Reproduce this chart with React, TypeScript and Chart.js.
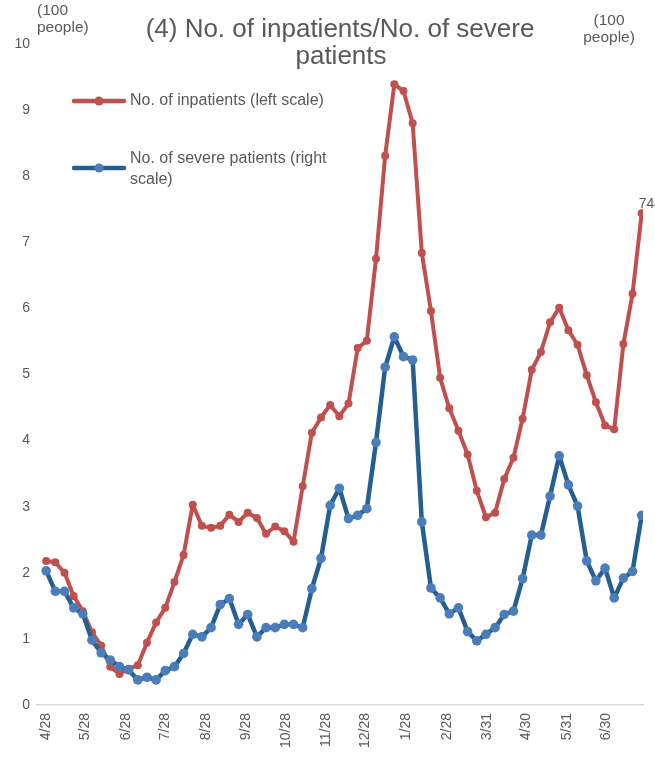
import React, { useEffect, useRef } from "react";
import { Chart, registerables } from "chart.js";

Chart.register(...registerables);

// Weekly observation dates (categories)
const weekDates = [
  "2020-04-28", "2020-05-05", "2020-05-12", "2020-05-19", "2020-05-26",
  "2020-06-02", "2020-06-09", "2020-06-16", "2020-06-23", "2020-06-30",
  "2020-07-07", "2020-07-14", "2020-07-21", "2020-07-28",
  "2020-08-04", "2020-08-11", "2020-08-18", "2020-08-25",
  "2020-09-01", "2020-09-08", "2020-09-15", "2020-09-22", "2020-09-29",
  "2020-10-06", "2020-10-13", "2020-10-20", "2020-10-27",
  "2020-11-03", "2020-11-10", "2020-11-17", "2020-11-24",
  "2020-12-01", "2020-12-08", "2020-12-15", "2020-12-22", "2020-12-29",
  "2021-01-05", "2021-01-12", "2021-01-19", "2021-01-26",
  "2021-02-02", "2021-02-09", "2021-02-16", "2021-02-23",
  "2021-03-02", "2021-03-09", "2021-03-16", "2021-03-23", "2021-03-30",
  "2021-04-06", "2021-04-13", "2021-04-20", "2021-04-27",
  "2021-05-04", "2021-05-11", "2021-05-18", "2021-05-25",
  "2021-06-01", "2021-06-08", "2021-06-15", "2021-06-22", "2021-06-29",
  "2021-07-06", "2021-07-13", "2021-07-20", "2021-07-27",
];

// No. of inpatients (left scale, 100 people)
const inpatients = [
  2.18, 2.16, 2.0, 1.65, 1.42, 1.1, 0.9, 0.58, 0.47, 0.55,
  0.6, 0.94, 1.25, 1.47, 1.86, 2.27, 3.03, 2.71, 2.68, 2.71,
  2.88, 2.77, 2.91, 2.83, 2.59, 2.7, 2.63, 2.47, 3.31, 4.12,
  4.35, 4.54, 4.37, 4.56, 5.4, 5.51, 6.75, 8.31, 9.39, 9.29,
  8.8, 6.84, 5.96, 4.95, 4.49, 4.15, 3.79, 3.24, 2.84, 2.91,
  3.42, 3.74, 4.33, 5.07, 5.34, 5.79, 6.01, 5.67, 5.45, 4.99,
  4.58, 4.23, 4.17, 5.46, 6.22, 7.44,
];

// No. of severe patients (right scale, 100 people)
const severe = [
  2.03, 1.72, 1.72, 1.47, 1.38, 0.98, 0.79, 0.68, 0.58, 0.53,
  0.38, 0.42, 0.38, 0.52, 0.58, 0.78, 1.07, 1.03, 1.17, 1.52,
  1.61, 1.22, 1.37, 1.03, 1.17, 1.17, 1.22, 1.22, 1.17, 1.76,
  2.22, 3.02, 3.28, 2.82, 2.87, 2.97, 3.97, 5.11, 5.57, 5.27,
  5.22, 2.77, 1.77, 1.62, 1.38, 1.47, 1.11, 0.97, 1.07, 1.17,
  1.37, 1.42, 1.91, 2.57, 2.57, 3.16, 3.77, 3.33, 3.01, 2.18,
  1.88, 2.07, 1.62, 1.92, 2.02, 2.87,
];

// x-axis tick dates (labels shown as M/D)
const tickDates = [
  "2020-04-28", "2020-05-28", "2020-06-28", "2020-07-28", "2020-08-28",
  "2020-09-28", "2020-10-28", "2020-11-28", "2020-12-28", "2021-01-28",
  "2021-02-28", "2021-03-31", "2021-04-30", "2021-05-31", "2021-06-30",
];

const yTicks = [0, 1, 2, 3, 4, 5, 6, 7, 8, 9, 10];

const titleLines = ["(4) No. of inpatients/No. of severe", "patients"];
const legendInpatients = "No. of inpatients (left scale)";
const legendSevereLines = ["No. of severe patients (right", "scale)"];
const unitLines = ["(100", "people)"];
const lastLabel = "744";

const FONT = '"Liberation Sans", Arial, sans-serif';
const TEXT = "#595959";
const RED = "#C0504D";
const BLUE_LINE = "#255E91";
const BLUE_MARK = "#4A7EBB";

const dayMs = 86400000;
const toDay = (s: string) => {
  const [y, m, d] = s.split("-").map(Number);
  return Date.UTC(y, m - 1, d) / dayMs;
};
const day0 = toDay(weekDates[0]);
const xs = weekDates.map((d) => toDay(d) - day0);
const tickVals = tickDates.map((d) => toDay(d) - day0);
const tickLabelFor = (v: number) => {
  const i = tickVals.indexOf(v);
  if (i < 0) return "";
  const [, m, d] = tickDates[i].split("-").map(Number);
  return `${m}/${d}`;
};

const overlayPlugin = {
  id: "overlay",
  afterDraw(chart: any) {
    const ctx = chart.ctx;
    ctx.save();
    ctx.fillStyle = TEXT;
    // Title
    ctx.font = `26px ${FONT}`;
    ctx.textAlign = "center";
    ctx.textBaseline = "alphabetic";
    ctx.fillText(titleLines[0], 340, 37);
    ctx.fillText(titleLines[1], 341, 64);
    // Units
    ctx.font = `15.5px ${FONT}`;
    ctx.textAlign = "left";
    ctx.fillText(unitLines[0], 37, 15);
    ctx.fillText(unitLines[1], 37, 32);
    ctx.textAlign = "center";
    ctx.fillText(unitLines[0], 609, 25);
    ctx.fillText(unitLines[1], 609, 42);
    // Legend
    const drawKey = (y: number, line: string, mark: string) => {
      ctx.strokeStyle = line;
      ctx.lineWidth = 4.5;
      ctx.lineCap = "round";
      ctx.beginPath();
      ctx.moveTo(74, y);
      ctx.lineTo(124, y);
      ctx.stroke();
      ctx.fillStyle = mark;
      ctx.beginPath();
      ctx.arc(99, y, 4.5, 0, Math.PI * 2);
      ctx.fill();
    };
    drawKey(101, RED, RED);
    drawKey(168, BLUE_LINE, BLUE_MARK);
    ctx.fillStyle = TEXT;
    ctx.font = `16px ${FONT}`;
    ctx.textAlign = "left";
    ctx.textBaseline = "middle";
    ctx.fillText(legendInpatients, 130, 101);
    ctx.fillText(legendSevereLines[0], 130, 159);
    ctx.fillText(legendSevereLines[1], 130, 180);
    // Data label on last inpatients point
    const meta = chart.getDatasetMeta(1);
    const last = meta.data[meta.data.length - 1];
    if (last) {
      ctx.font = `14px ${FONT}`;
      ctx.textBaseline = "alphabetic";
      ctx.fillText(lastLabel, last.x - 3, last.y - 5);
    }
    ctx.restore();
  },
};

export default function App() {
  const ref = useRef<HTMLCanvasElement | null>(null);
  useEffect(() => {
    document.body.style.margin = "0";
    if (!ref.current) return;
    const chart = new Chart(ref.current, {
      type: "line",
      data: {
        datasets: [
          {
            label: "No. of severe patients (right scale)",
            data: xs.map((x, i) => ({ x, y: severe[i] })),
            yAxisID: "y1",
            borderColor: BLUE_LINE,
            backgroundColor: BLUE_MARK,
            pointBackgroundColor: BLUE_MARK,
            pointBorderColor: BLUE_MARK,
            borderWidth: 4.5,
            pointRadius: 4.8,
            pointBorderWidth: 0,
            tension: 0,
            order: 0,
          },
          {
            label: "No. of inpatients (left scale)",
            data: xs.map((x, i) => ({ x, y: inpatients[i] })),
            yAxisID: "y",
            borderColor: RED,
            backgroundColor: RED,
            pointBackgroundColor: RED,
            pointBorderColor: RED,
            borderWidth: 4,
            pointRadius: 4,
            pointBorderWidth: 0,
            tension: 0,
            order: 1,
          },
        ],
      },
      options: {
        animation: false,
        responsive: true,
        maintainAspectRatio: false,
        events: [],
        layout: { padding: { top: 44, right: 12, bottom: 0, left: 0 } },
        plugins: {
          legend: { display: false },
          title: { display: false },
          tooltip: { enabled: false },
        },
        elements: { line: { borderCapStyle: "round", borderJoinStyle: "round" } },
        scales: {
          x: {
            type: "linear",
            min: -7,
            max: 456,
            afterBuildTicks: (scale: any) => {
              scale.ticks = tickVals.map((v) => ({ value: v }));
            },
            afterFit: (scale: any) => {
              scale.height = 52;
            },
            ticks: {
              autoSkip: false,
              minRotation: 90,
              maxRotation: 90,
              padding: 8,
              color: TEXT,
              font: { family: FONT, size: 14 },
              callback: (v: any) => tickLabelFor(Number(v)),
            },
            grid: { display: false, drawTicks: false },
            border: { display: true, color: "#D9D9D9", width: 1.5 },
          },
          y: {
            position: "left",
            min: 0,
            max: 10,
            afterBuildTicks: (scale: any) => {
              scale.ticks = yTicks.map((v) => ({ value: v }));
            },
            afterFit: (scale: any) => {
              scale.width = 37;
            },
            ticks: {
              padding: 7,
              color: TEXT,
              font: { family: FONT, size: 14 },
            },
            grid: { display: false, drawTicks: false },
            border: { display: false },
          },
          y1: {
            position: "right",
            min: 0,
            max: 10,
            display: false,
          },
        },
      },
      plugins: [overlayPlugin],
    } as any);
    return () => chart.destroy();
  }, []);
  return (
    <div style={{ position: "absolute", left: 0, top: 0, width: 655, height: 757 }}>
      <canvas ref={ref} />
    </div>
  );
}
